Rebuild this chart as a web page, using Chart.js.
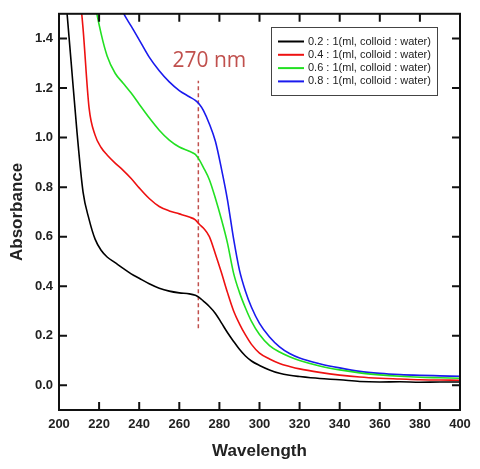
<!DOCTYPE html>
<html>
<head>
<meta charset="utf-8">
<script src="https://cdn.jsdelivr.net/npm/chart.js@4"></script>
<style>
  html, body { margin: 0; padding: 0; background: #fff; }
  #wrap { width: 480px; height: 469px; }
</style>
</head>
<body>
<div id="wrap"><canvas id="chart" width="480" height="469"></canvas></div>
<script>
const wavelength = [200, 203, 206, 209, 212, 215, 218, 221, 224, 228, 232, 236, 240, 245, 250, 255, 260, 265, 268, 270,
  272, 275, 278, 281, 284, 287, 290, 293, 296, 300, 305, 310, 315, 320, 330, 340, 350, 360, 370, 380, 390, 400];

const abs02 = [1.89, 1.60, 1.31, 1.02, 0.78, 0.67, 0.59, 0.545, 0.518, 0.495, 0.472, 0.450, 0.432, 0.410, 0.392, 0.380, 0.373, 0.369, 0.363, 0.354,
  0.340, 0.318, 0.290, 0.252, 0.213, 0.178, 0.145, 0.118, 0.098, 0.080, 0.062, 0.048, 0.040, 0.035, 0.027, 0.022, 0.015, 0.013, 0.014, 0.012, 0.013, 0.013];
const abs04 = [2.60, 2.30, 2.00, 1.70, 1.44, 1.12, 1.01, 0.96, 0.93, 0.897, 0.868, 0.835, 0.797, 0.754, 0.722, 0.704, 0.692, 0.679, 0.668, 0.650,
  0.635, 0.600, 0.530, 0.455, 0.375, 0.302, 0.248, 0.203, 0.165, 0.130, 0.106, 0.088, 0.076, 0.066, 0.052, 0.041, 0.033, 0.028, 0.025, 0.022, 0.021, 0.020];
const abs06 = [2.70, 2.50, 2.30, 2.10, 1.90, 1.72, 1.54, 1.42, 1.33, 1.26, 1.22, 1.18, 1.135, 1.08, 1.03, 0.99, 0.962, 0.945, 0.932, 0.910,
  0.880, 0.830, 0.755, 0.670, 0.575, 0.455, 0.375, 0.312, 0.258, 0.205, 0.160, 0.134, 0.115, 0.100, 0.078, 0.062, 0.050, 0.042, 0.036, 0.032, 0.030, 0.028];
const abs08 = [2.60, 2.40, 2.25, 2.10, 1.98, 1.88, 1.79, 1.72, 1.66, 1.58, 1.505, 1.45, 1.395, 1.325, 1.27, 1.225, 1.19, 1.165, 1.15, 1.135,
  1.110, 1.055, 0.985, 0.875, 0.750, 0.595, 0.465, 0.380, 0.315, 0.250, 0.195, 0.155, 0.128, 0.110, 0.087, 0.070, 0.056, 0.048, 0.043, 0.040, 0.038, 0.036];

const seriesLabels = ["0.2 : 1(ml, colloid : water)", "0.4 : 1(ml, colloid : water)",
  "0.6 : 1(ml, colloid : water)", "0.8 : 1(ml, colloid : water)"];
const seriesColors = ["#000000", "#ee1111", "#22e022", "#1a1aee"];

const xTicks = [200, 220, 240, 260, 280, 300, 320, 340, 360, 380, 400];
const yTicks = [0.0, 0.2, 0.4, 0.6, 0.8, 1.0, 1.2, 1.4];

// dashed marker at 270 nm
const markerX = [269.5, 269.5];
const markerY = [0.23, 1.23];
const markerText = "270 nm";

const toPoints = (xs, ys) => xs.map((x, i) => ({ x: x, y: ys[i] }));
const allSeries = [abs02, abs04, abs06, abs08];

const datasets = allSeries.map((vals, i) => ({
  label: seriesLabels[i],
  data: toPoints(wavelength, vals),
  borderColor: seriesColors[i],
  borderWidth: 1.6,
  pointRadius: 0,
  cubicInterpolationMode: "monotone"
}));
datasets.push({
  label: "marker",
  data: toPoints(markerX, markerY),
  borderColor: "#c0504d",
  borderWidth: 1.5,
  borderDash: [4, 3],
  pointRadius: 0
});

const FONT = "'Liberation Sans', Arial, sans-serif";

// frame, inward ticks on four sides, legend box, annotation text
const decor = {
  id: "decor",
  afterDatasetsDraw(chart) {
    const { ctx, chartArea: a, scales } = chart;
    ctx.save();
    ctx.strokeStyle = "#111";
    ctx.lineWidth = 2;
    ctx.strokeRect(a.left, a.top, a.right - a.left, a.bottom - a.top);
    const tl = 8;
    ctx.beginPath();
    xTicks.forEach(v => {
      const px = scales.x.getPixelForValue(v);
      ctx.moveTo(px, a.bottom); ctx.lineTo(px, a.bottom - tl);
      ctx.moveTo(px, a.top); ctx.lineTo(px, a.top + tl);
    });
    yTicks.forEach(v => {
      const py = scales.y.getPixelForValue(v);
      ctx.moveTo(a.left, py); ctx.lineTo(a.left + tl, py);
      ctx.moveTo(a.right, py); ctx.lineTo(a.right - tl, py);
    });
    ctx.stroke();

    // annotation
    ctx.fillStyle = "#c0504d";
    ctx.font = "21px 'Open Sans', sans-serif";
    ctx.textAlign = "center";
    ctx.textBaseline = "middle";
    ctx.fillText(markerText, scales.x.getPixelForValue(275), scales.y.getPixelForValue(1.31));

    // legend
    const bx = 271, by = 27, bw = 166, bh = 68;
    ctx.fillStyle = "#fff";
    ctx.fillRect(bx, by, bw, bh);
    ctx.strokeStyle = "#444";
    ctx.lineWidth = 1;
    ctx.strokeRect(bx + 0.5, by + 0.5, bw, bh);
    ctx.font = "11px " + FONT;
    ctx.textAlign = "left";
    seriesLabels.forEach((lab, i) => {
      const y = by + 14.5 + i * 13.3;
      ctx.strokeStyle = seriesColors[i];
      ctx.lineWidth = 2;
      ctx.beginPath();
      ctx.moveTo(bx + 7, y); ctx.lineTo(bx + 33, y);
      ctx.stroke();
      ctx.fillStyle = "#222";
      ctx.fillText(lab, bx + 37, y);
    });
    ctx.restore();
  }
};

new Chart(document.getElementById("chart"), {
  type: "line",
  data: { datasets: datasets },
  plugins: [decor],
  options: {
    responsive: false,
    animation: false,
    layout: { padding: { top: 10, right: 20, left: 0, bottom: 0 } },
    plugins: { legend: { display: false }, tooltip: { enabled: false } },
    scales: {
      x: {
        type: "linear",
        min: 200,
        max: 400,
        afterBuildTicks: s => { s.ticks = xTicks.map(v => ({ value: v })); },
        afterFit: s => { s.height = 59; },
        grid: { display: false, drawTicks: false },
        border: { display: false },
        ticks: {
          padding: 7,
          color: "#222",
          font: { family: FONT, size: 13, weight: "bold" },
          callback: v => String(v)
        },
        title: {
          display: true,
          text: "Wavelength",
          color: "#222",
          font: { family: FONT, size: 17, weight: "bold" },
          padding: { top: 0, bottom: 7 }
        }
      },
      y: {
        min: -0.1,
        max: 1.5,
        afterBuildTicks: s => { s.ticks = yTicks.map(v => ({ value: v })); },
        afterFit: s => { s.width = 59; },
        grid: { display: false, drawTicks: false },
        border: { display: false },
        ticks: {
          padding: 6,
          color: "#222",
          font: { family: FONT, size: 13, weight: "bold" },
          callback: v => Number(v).toFixed(1)
        },
        title: {
          display: true,
          text: "Absorbance",
          color: "#222",
          font: { family: FONT, size: 17, weight: "bold" },
          padding: { top: 7, bottom: 0 }
        }
      }
    }
  }
});
</script>
</body>
</html>
